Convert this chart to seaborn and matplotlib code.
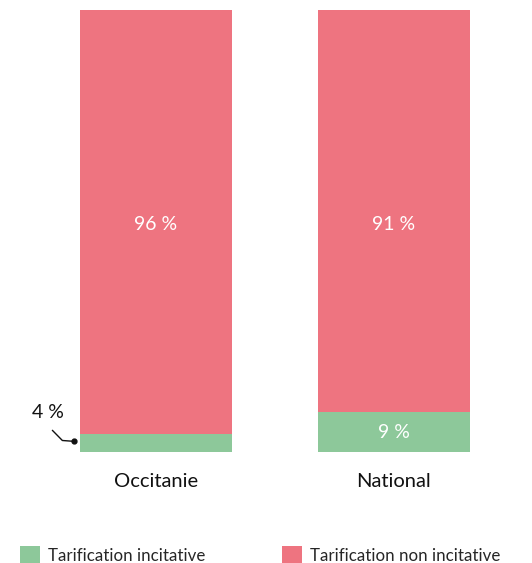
import matplotlib
matplotlib.use("Agg")
import matplotlib.pyplot as plt
import seaborn as sns
import pandas as pd
from matplotlib.patches import Patch

regions = ["Occitanie", "National"]
incitative = [4, 9]
non_incitative = [96, 91]
series_names = ["Tarification incitative", "Tarification non incitative"]

GREEN = "#8DC89A"
RED = "#EE7480"

sns.set_theme(style="white")
plt.rcParams["font.family"] = ["Lato", "DejaVu Sans"]

df = pd.DataFrame({
    "region": regions,
    "inc": incitative,
    "non": non_incitative,
})
df["total"] = df["inc"] + df["non"]

fig = plt.figure(figsize=(5.32, 5.63), dpi=100)
ax = fig.add_axes([0, 0.1972, 1, 0.785])

sns.barplot(data=df, x="region", y="total", color=RED, width=0.64,
            saturation=1, ax=ax, linewidth=0)
sns.barplot(data=df, x="region", y="inc", color=GREEN, width=0.64,
            saturation=1, ax=ax, linewidth=0)

ax.set_xlim(-0.655, 1.58)
ax.set_ylim(0, 100)
ax.set_xlabel("")
ax.set_ylabel("")
ax.set_yticks([])
ax.tick_params(axis="x", length=0, labelsize=14.5, pad=15, colors="#111111")
for s in ax.spines.values():
    s.set_visible(False)

# labels
for i, (g, r) in enumerate(zip(incitative, non_incitative)):
    ax.text(i, 51.5, f"{r} %", ha="center", va="center", color="white", fontsize=14)
    if g >= 6:
        ax.text(i, g / 2, f"{g} %", ha="center", va="center", color="white", fontsize=14)
    else:
        ax.text(-0.452, 9.0, f"{g} %", ha="center", va="center", color="#111111", fontsize=14)
        ax.plot([-0.435, -0.393, -0.343], [4.9, 2.6, 2.4], color="#111111", lw=1)
        ax.plot([-0.343], [2.4], marker="o", color="#111111", ms=3.5)

handles = [Patch(facecolor=GREEN, edgecolor="none"), Patch(facecolor=RED, edgecolor="none")]
fig.legend(handles, series_names, loc="center left", bbox_to_anchor=(0.0376, 0.014),
           ncol=2, frameon=False, fontsize=12.2, handlelength=1.2, handleheight=1.2,
           handletextpad=0.45, columnspacing=4.5, borderaxespad=0, borderpad=0)

fig.savefig("out.png", dpi=100)
